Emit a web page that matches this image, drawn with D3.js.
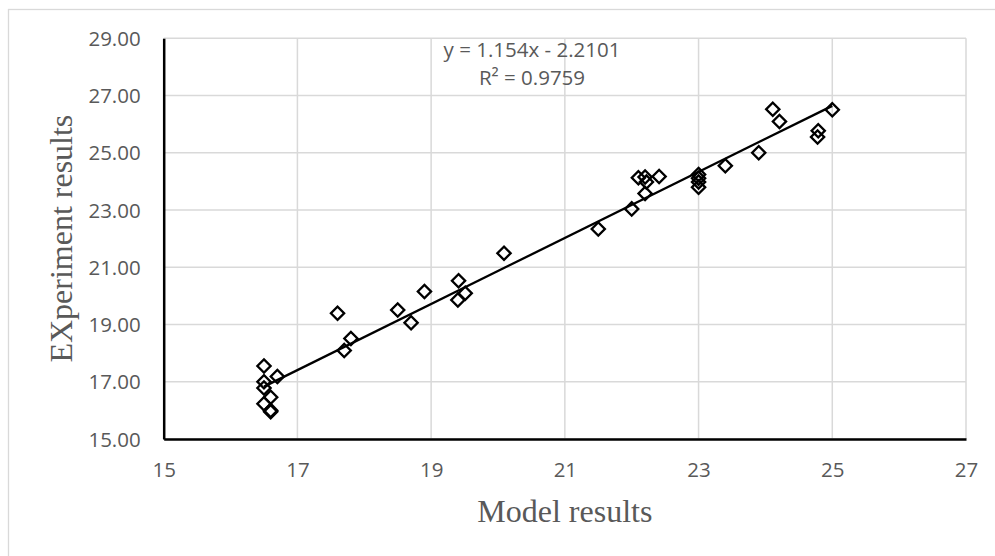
<!DOCTYPE html>
<html>
<head>
<meta charset="utf-8">
<script src="https://cdn.jsdelivr.net/npm/d3@7"></script>
<style>
  html, body { margin: 0; padding: 0; background: #fff; }
  svg { display: block; }
</style>
</head>
<body>
<svg id="chart" width="995" height="556"></svg>
<script>
// ---- data ----
const modelResults = [
  16.50, 16.70, 16.50, 16.50, 16.60, 16.50, 16.60, 16.60,
  17.60, 17.80, 17.70, 18.50, 18.70, 18.90, 19.41, 19.51, 19.40, 20.09,
  21.50, 22.00, 22.20, 22.10, 22.20, 22.22, 22.41,
  23.00, 23.00, 23.00, 23.00, 23.40, 23.90,
  24.11, 24.21, 24.79, 24.78, 25.00
];
const experimentResults = [
  17.55, 17.18, 17.00, 16.78, 16.46, 16.23, 16.00, 15.95,
  19.39, 18.51, 18.09, 19.51, 19.06, 20.15, 20.53, 20.09, 19.86, 21.49,
  22.34, 23.04, 23.58, 24.13, 24.15, 23.98, 24.17,
  24.24, 24.11, 23.98, 23.80, 24.55, 25.00,
  26.52, 26.09, 25.77, 25.55, 26.50
];
const trendSlope = [1.154];
const trendIntercept = [-2.2101];
const equationLines = ["y = 1.154x - 2.2101", "R\u00B2 = 0.9759"];
const xTicks = [15, 17, 19, 21, 23, 25, 27];
const yTicks = [15, 17, 19, 21, 23, 25, 27, 29];
const xTitle = "Model results";
const yTitle = "EXperiment results";

// ---- drawing ----
const svg = d3.select("#chart");
const x = d3.scaleLinear().domain([15, 27]).range([163.7, 966]);
const y = d3.scaleLinear().domain([15, 29]).range([439, 38.3]);
const tickFont = "'Open Sans', 'Noto Sans', sans-serif";
const grey = "#595959";

// outer border
svg.append("rect")
  .attr("x", 8.5).attr("y", 9.5).attr("width", 1000).attr("height", 560)
  .attr("fill", "none").attr("stroke", "#d9d9d9").attr("stroke-width", 1.3);

// gridlines
svg.append("g").selectAll("line").data(yTicks).join("line")
  .attr("x1", x(15)).attr("x2", x(27))
  .attr("y1", d => y(d)).attr("y2", d => y(d))
  .attr("stroke", "#d9d9d9").attr("stroke-width", 1.5);
svg.append("g").selectAll("line").data(xTicks).join("line")
  .attr("x1", d => x(d)).attr("x2", d => x(d))
  .attr("y1", y(15)).attr("y2", y(29))
  .attr("stroke", "#d9d9d9").attr("stroke-width", 1.5);

// axes (via d3 axes, styled)
const xAxis = svg.append("g").attr("transform", `translate(0,${y(15)})`)
  .call(d3.axisBottom(x).tickValues(xTicks).tickFormat(d3.format("d")).tickSize(0).tickPadding(28));
const yAxis = svg.append("g").attr("transform", `translate(${x(15)},0)`)
  .call(d3.axisLeft(y).tickValues(yTicks).tickFormat(d3.format(".2f")).tickSize(0).tickPadding(23));
[xAxis, yAxis].forEach(g => {
  g.select(".domain").attr("stroke", "#000").attr("stroke-width", 2.5);
  g.selectAll(".tick text").attr("fill", grey).attr("font-family", tickFont).attr("font-size", "20.5px");
});
xAxis.selectAll(".tick text").attr("dy", null).attr("y", 37.7);
yAxis.selectAll(".tick text").attr("dy", "0.35em");

// points (diamonds)
const pts = modelResults.map((m, i) => ({ m, e: experimentResults[i] }));
const diamond = d3.symbol().type(d3.symbolSquare).size(88);
svg.append("g").selectAll("path").data(pts).join("path")
  .attr("d", diamond)
  .attr("transform", d => `translate(${x(d.m)},${y(d.e)}) rotate(45)`)
  .attr("fill", "none").attr("stroke", "#000").attr("stroke-width", 2.3);

// trendline
const xMin = d3.min(modelResults), xMax = d3.max(modelResults);
const f = v => trendSlope[0] * v + trendIntercept[0];
svg.append("line")
  .attr("x1", x(xMin)).attr("y1", y(f(xMin)))
  .attr("x2", x(xMax)).attr("y2", y(f(xMax)))
  .attr("stroke", "#000").attr("stroke-width", 2.3);

// equation label
svg.append("g").selectAll("text").data(equationLines).join("text")
  .attr("x", 532).attr("y", (d, i) => 56.7 + i * 28.4)
  .attr("text-anchor", "middle")
  .attr("font-family", tickFont).attr("font-size", "20.5px").attr("fill", grey)
  .text(d => d);

// axis titles
svg.append("text")
  .attr("x", (x(15) + x(27)) / 2).attr("y", 521.7)
  .attr("text-anchor", "middle")
  .attr("font-family", "'Liberation Serif', 'Times New Roman', serif")
  .attr("font-size", "32px").attr("fill", grey)
  .text(xTitle);
svg.append("text")
  .attr("transform", `translate(72,${(y(15) + y(29)) / 2}) rotate(-90)`)
  .attr("text-anchor", "middle")
  .attr("font-family", "'Liberation Serif', 'Times New Roman', serif")
  .attr("font-size", "32px").attr("fill", grey)
  .text(yTitle);
</script>
</body>
</html>
